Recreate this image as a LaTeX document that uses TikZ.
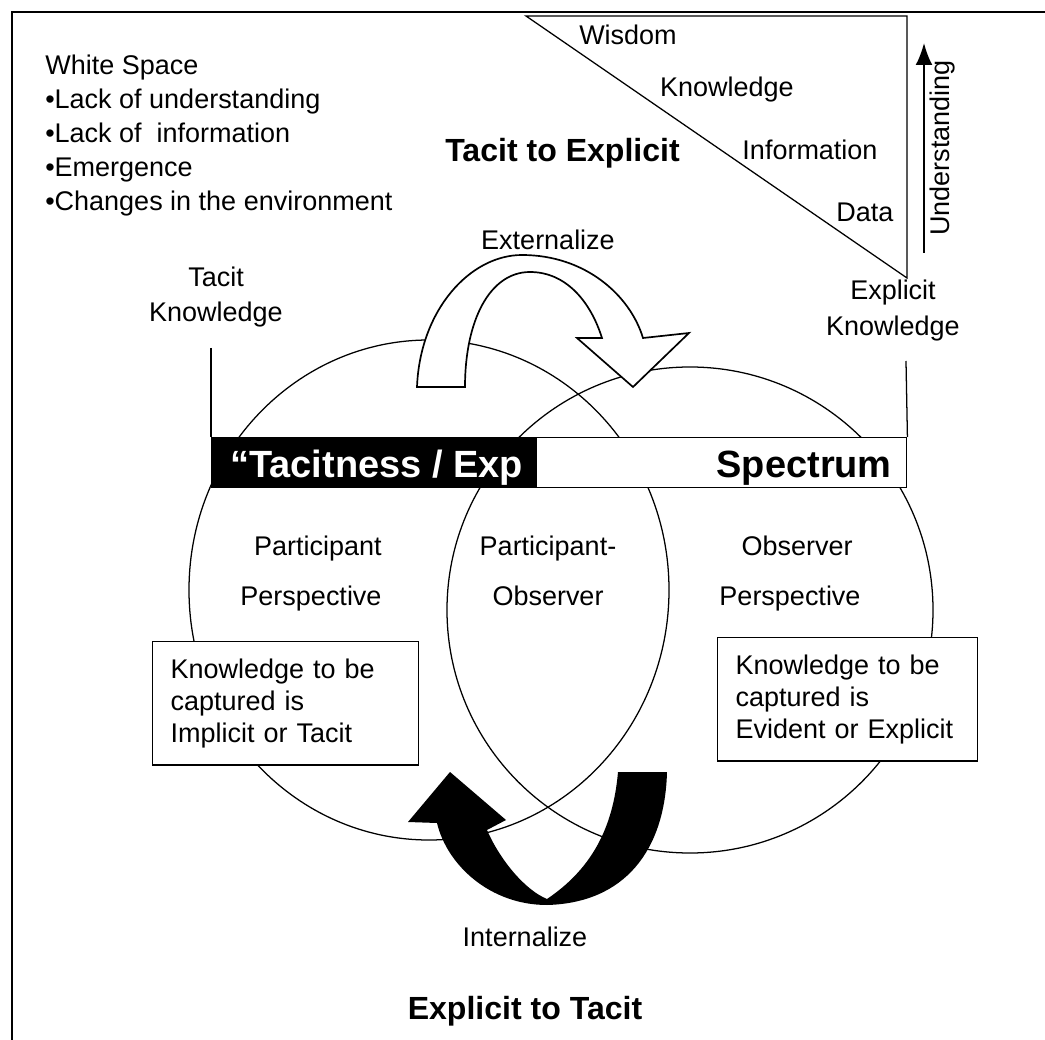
\documentclass[tikz,border=0pt]{standalone}
\usepackage{fontspec}
\setmainfont{Liberation Sans}
\usetikzlibrary{arrows.meta, positioning}

\begin{document}
\begin{tikzpicture}[
x=0.25mm, y=-0.25mm,
>=Latex,
lbl/.style={font=\fontsize{19.2}{23}\selectfont, inner sep=0},
ttl/.style={font=\bfseries\fontsize{22.8}{27}\selectfont, inner sep=0},
barfont/.style={font=\bfseries\fontsize{27}{32}\selectfont, inner sep=0},
capbox/.style={draw, fill=white, line width=0.9pt, align=left, anchor=north west,
  inner xsep=4.5mm, inner ysep=4.25mm, font=\fontsize{19.2}{22.8}\selectfont},
ring/.style={line width=0.9pt},
]
\useasboundingbox (0,0) rectangle (1045,1040);
% frame
\draw[line width=1.2pt] (1045,12) -- (12,12) -- (12,1040);

%% white space list
\node[lbl, anchor=base west] (ws) at (45,75) {White Space};
\node[lbl, anchor=base west] (ws1) at (45,109) {•Lack of understanding};
\node[lbl, anchor=base west] (ws2) at (45,143) {•Lack of\ \ information};
\node[lbl, anchor=base west] (ws3) at (45,177) {•Emergence};
\node[lbl, anchor=base west] (ws4) at (45,211) {•Changes in the environment};

%% pyramid
\draw[line width=0.9pt] (526,16) -- (907,16) -- (907,278) -- cycle;
\node[lbl, anchor=base] (wis) at (628,45) {Wisdom};
\node[lbl, anchor=base] (kno) at (727,97) {Knowledge};
\node[lbl, anchor=base] (inf) at (810,160) {Information};
\node[lbl, anchor=base] (dat) at (865,222) {Data};
\coordinate (ubot) at (924,253);
\coordinate (utop) at (924,43);
\draw[line width=1.3pt, -{Latex[length=5.5mm, width=4.2mm]}] (ubot) -- (utop);
\node[lbl, rotate=90, anchor=base] (und) at (949,148) {Understanding};

%% titles and labels
\node[ttl, anchor=base west] (t2e) at (445,162) {Tacit to Explicit};
\node[lbl, anchor=base] (ext) at (548,250) {Externalize};
\node[lbl, anchor=base] (tac1) at (216,287) {Tacit};
\node[lbl, anchor=base] (tac2) at (216,322) {Knowledge};
\node[lbl, anchor=base] (exp1) at (893,300) {Explicit};
\node[lbl, anchor=base] (exp2) at (893,336) {Knowledge};

%% circles
\draw[ring] (429,590) ellipse [x radius=60mm, y radius=62.5mm];
\draw[ring] (690,610) circle [radius=60.75mm];

% boxes
\node[capbox, text width=57.5mm] (tbox) at (152,641) {Knowledge to be\\captured is\\Implicit or Tacit};
\node[capbox, text width=56mm] (ebox) at (717,637) {Knowledge to be\\captured is\\Evident or Explicit};

% perspectives
\node[lbl, anchor=base] (pp1) at (318,555) {Participant};
\node[lbl, anchor=base] (pp2) at (311,605) {Perspective};
\node[lbl, anchor=base] (po1) at (548,555) {Participant-};
\node[lbl, anchor=base] (po2) at (548,605) {Observer};
\node[lbl, anchor=base] (op1) at (797,555) {Observer};
\node[lbl, anchor=base] (op2) at (790,605) {Perspective};

%% spectrum bar
\node[draw, fill=white, line width=1pt, minimum width=173.75mm, minimum height=12.5mm,
  inner sep=0, anchor=north west] (bar) at (211,437) {};
\fill (bar.north west) rectangle ([xshift=81.5mm]bar.south west);
\node[barfont, white, anchor=base west] (barl) at (230,477) {“Tacitness / Exp};
\node[barfont, anchor=base east] (barr) at (892,477) {Spectrum};
\coordinate (tk) at (211,348);
\coordinate (ek) at (906,361);
\draw[line width=0.9pt] (tk) -- (bar.north west);
\draw[line width=0.9pt] (ek) -- (bar.north east);

%% arrows
% externalize
\filldraw[fill=white, line width=1.2pt] (417,387) .. controls (420,310) and (470,255) .. (522,255)
  .. controls (585,255) and (630,295) .. (643,338) -- (689,333) -- (633,387) -- (577,338)
  -- (602,338) .. controls (590,300) and (565,272) .. (530,272)
  .. controls (490,272) and (465,320) .. (465,387) -- cycle;
% internalize
\fill (667,772) .. controls (665,850) and (625,903) .. (547,905)
  .. controls (490,905) and (447,865) .. (437,823) -- (408,822) -- (450,772) -- (506,820)
  -- (487,830) .. controls (500,860) and (525,890) .. (547,899)
  .. controls (590,870) and (613,830) .. (618,772) -- cycle;
\node[lbl, anchor=base] (int) at (525,946) {Internalize};
\node[ttl, anchor=base] (e2t) at (525,1019) {Explicit to Tacit};
\end{tikzpicture}
\end{document}
